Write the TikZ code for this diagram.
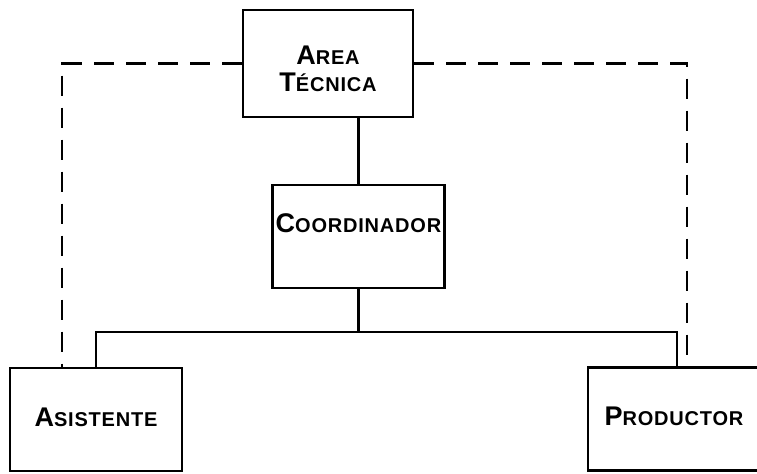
\documentclass[tikz,border=0pt]{standalone}
\usepackage{fontspec}
\setmainfont[LetterSpace=4]{Liberation Sans}
\usepackage{tikz}
\usetikzlibrary{calc}

% first letter big, the rest as small capitals
\newcommand{\scword}[2]{{\fontsize{13.5}{12.5}\selectfont#1}{\fontsize{10}{12.5}\selectfont#2}}

\begin{document}
\begin{tikzpicture}[x=0.5pt,y=-0.5pt,
  box/.style={draw,line width=1.2pt,inner sep=0pt,minimum width=86pt,minimum height=51.5pt,align=center,font=\bfseries},
  ln/.style={line width=1.2pt},
  dashln/.style={line width=1.2pt,dash pattern=on 10pt off 6pt}]
\useasboundingbox (0,0) rectangle (757,473);
\node[box,minimum width=85pt,minimum height=53.5pt] (area) at (328,63.5) {\rule{0pt}{15pt}\scword{A}{REA}\\[1.5pt]\scword{T}{ÉCNICA}};
\node[box,text height=23.5pt,text depth=28pt] (coord) at (358.5,236.5) {\scword{C}{OORDINADOR}};
\node[box,text height=29pt,text depth=22.5pt] (asis) at (96,419.5) {\scword{A}{SISTENTE}};
\node[box,text height=29pt,text depth=22.5pt] (prod) at (674,419) {\scword{P}{RODUCTOR}};
\coordinate (bus) at (358.5,332);
\coordinate (dl) at (62,368);
\coordinate (dr) at (687,367);
\draw[ln] (coord.north) -- (coord.north |- area.south);
\draw[ln] (coord.south) -- (bus);
\draw[ln] (asis.north) |- (bus) -| ([xshift=1.5pt]prod.north);
\draw[dashln] (area.west) -| (dl);
\draw[dashln] (area.east) -| (dr);
\end{tikzpicture}
\end{document}
